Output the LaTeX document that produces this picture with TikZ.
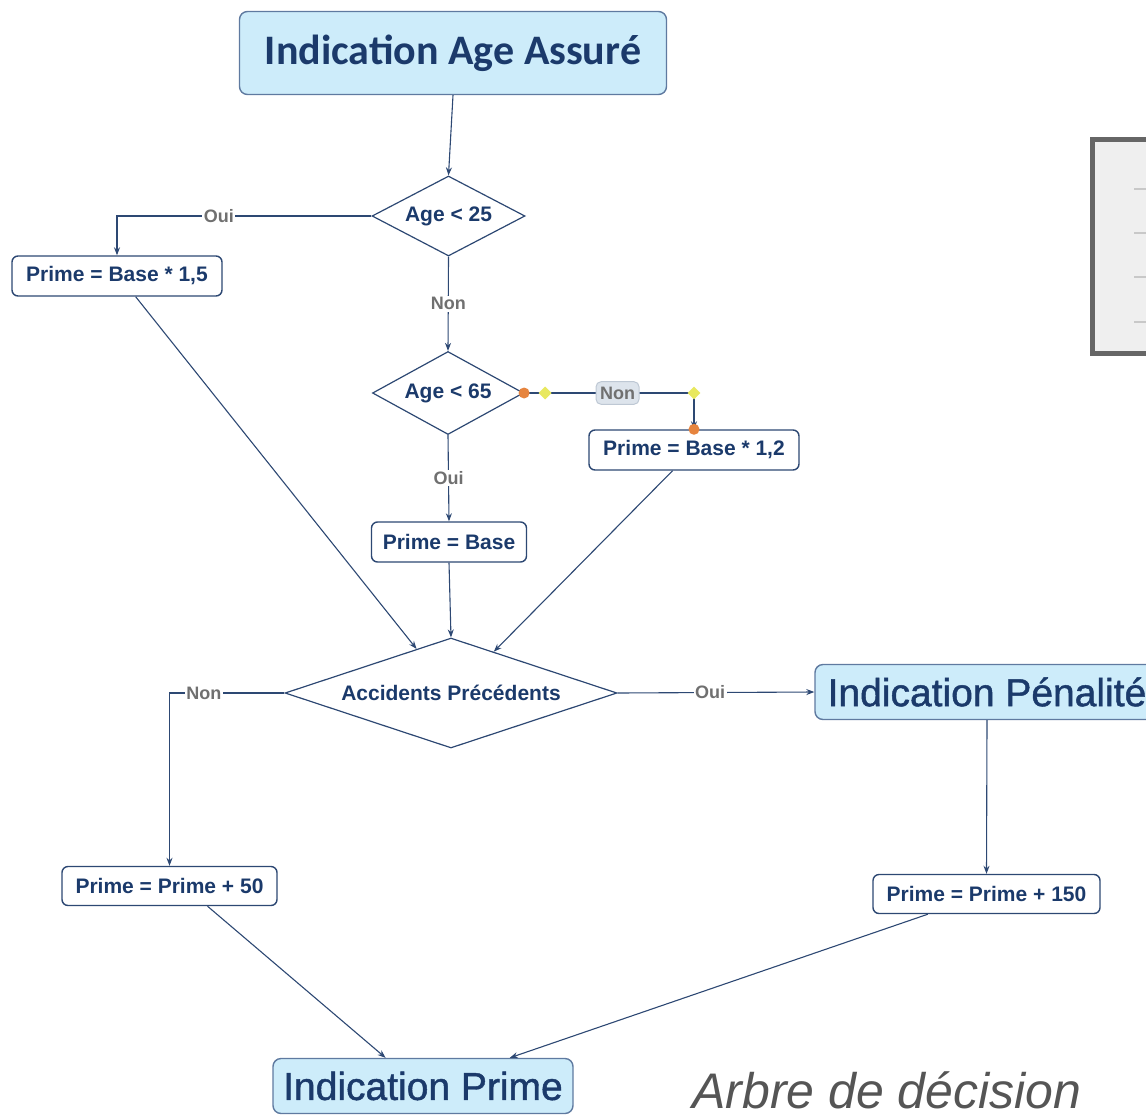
\documentclass[tikz,border=0pt]{standalone}
\usepackage{fontspec}
\setmainfont{Liberation Sans}
\newfontfamily\titlefont{Carlito}
\newfontfamily\bigfont[FakeBold=1.2]{Liberation Sans}
\usetikzlibrary{arrows.meta, calc, positioning, shapes.geometric}
\definecolor{flowblue}{RGB}{27, 58, 107}
\definecolor{flowline}{RGB}{45, 72, 115}
\definecolor{flowfill}{RGB}{205, 236, 250}
\definecolor{flowborder}{RGB}{95, 122, 160}
\definecolor{labelgrey}{RGB}{112, 112, 112}
\definecolor{nonfill}{RGB}{221, 228, 236}
\definecolor{nonborder}{RGB}{190, 200, 212}
\definecolor{markorange}{RGB}{230, 132, 62}
\definecolor{markyellow}{RGB}{232, 232, 95}
\definecolor{panelgrey}{RGB}{102, 102, 102}
\definecolor{panelfill}{RGB}{239, 239, 239}
\definecolor{panelrule}{RGB}{200, 200, 200}
\definecolor{captiongrey}{RGB}{85, 85, 85}

\begin{document}
\begin{tikzpicture}[
	x=1pt, y=-1pt,
	texts/.style = {text=flowblue, font=\bfseries\fontsize{21}{24}\selectfont},
	labeltexts/.style = {text=labelgrey, fill=white, inner sep=1.5pt, font=\bfseries\fontsize{18}{20}\selectfont},
	nonbox/.style = {labeltexts, fill=nonfill, draw=nonborder, rounded corners=5pt, inner xsep=4pt, inner ysep=5pt, line width=1pt},
	treeline/.style = {draw=flowline, line width=1.1pt},
	arrowline/.style = {treeline, -{Stealth[length=8pt, width=6pt]}},
	flownode/.style = {texts, rectangle, rounded corners=6pt, fill=white, draw=flowline, line width=1.4pt, inner sep=2pt, minimum height=40pt},
	bignode/.style = {flownode, fill=flowfill, draw=flowborder, rounded corners=8pt, font=\bigfont\fontsize{39}{44}\selectfont},
	decisionnode/.style = {texts, diamond, draw=flowline, line width=1.2pt, fill=white, inner sep=0pt},
	orangedot/.style = {circle, fill=markorange, inner sep=0pt, minimum size=11pt},
	yellowmark/.style = {diamond, fill=markyellow, inner sep=0pt, minimum size=13pt}
]
	\useasboundingbox (0,0) rectangle (1146,1119);

	% side panel
	\draw[panelgrey, line width=5pt, fill=panelfill] (1092,139) rectangle (1165,353);
	\foreach \yy in {189, 233, 277, 322}
		\draw[panelrule, line width=1.5pt] (1134,\yy) -- (1146,\yy);

	% nodes
	\node[bignode, font=\titlefont\bfseries\fontsize{42}{46}\selectfont, minimum width=427pt, minimum height=83pt] (age) at (453,53) {Indication Age Assur\'e};
	\node[decisionnode, aspect=1.9, minimum width=153pt, minimum height=80pt] (q25) at (448.5,216) {Age < 25};
	\node[flownode, minimum width=210pt] (p15) at (117,276) {Prime = Base * 1,5};
	\node[decisionnode, aspect=1.8, minimum width=151pt, minimum height=83pt] (q65) at (448,393) {Age < 65};
	\node[flownode, minimum width=210pt] (p12) at (694,450) {Prime = Base * 1,2};
	\node[flownode, minimum width=155pt] (base) at (449,542) {Prime = Base};
	\node[decisionnode, aspect=3, minimum width=332pt, minimum height=110pt] (acc) at (451,693) {Accidents Pr\'ec\'edents};
	\node[bignode, minimum width=344pt, minimum height=55pt] (pen) at (987,692) {Indication P\'enalit\'e};
	\node[flownode, minimum width=215pt, minimum height=39pt] (p50) at (169.5,886) {Prime = Prime + 50};
	\node[flownode, minimum width=227pt, minimum height=39pt] (p150) at (986.5,894) {Prime = Prime + 150};
	\node[bignode, minimum width=300pt, minimum height=55pt] (prime) at (423,1086) {Indication Prime};
	\node[anchor=base west, inner sep=0pt, text=captiongrey, font=\itshape\fontsize{50}{56}\selectfont] (caption) at (692,1108) {Arbre de d\'ecision};

	% connectors
	\draw[arrowline] (age.south) -- (q25.north);
	\draw[arrowline] (q25.west) -| node[labeltexts, pos=0.3] {Oui} (p15.north);
	\draw[arrowline] (q25.south) -- node[labeltexts] {Non} (q65.north);
	\draw[arrowline] (q65.east) -| node[nonbox, pos=0.275] {Non} (p12.north);
	\draw[arrowline] (q65.south) -- node[labeltexts] {Oui} (base.north);
	\draw[arrowline] (p15.-48) -- (acc.128);
	\draw[arrowline] (base.south) -- (acc.north);
	\draw[arrowline] (p12.224) -- (acc.44);
	\draw[arrowline] (acc.west) -| node[labeltexts, pos=0.35] {Non} (p50.north);
	\draw[arrowline] (acc.east) -- node[labeltexts, pos=0.47] {Oui} (pen.west);
	\draw[arrowline] (pen.south) -- (p150.north);
	\draw[arrowline] (p50.-28) -- (prime.143);
	\draw[arrowline] (p150.199) -- (prime.18);

	% edit markers
	\node[orangedot] (m1) at (q65.east) {};
	\node[yellowmark] (m2) at ($(q65.east)+(21,0)$) {};
	\node[yellowmark] (m3) at (p12.north |- q65.east) {};
	\node[orangedot] (m4) at (p12.north) {};
\end{tikzpicture}
\end{document}
